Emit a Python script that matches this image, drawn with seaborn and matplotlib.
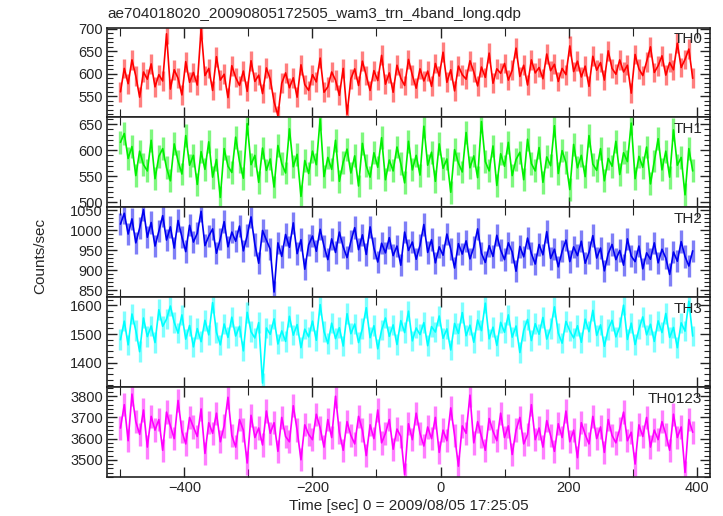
import numpy as np
import pandas as pd
import matplotlib
matplotlib.use("Agg")
import matplotlib.pyplot as plt
from matplotlib.ticker import MultipleLocator, AutoMinorLocator
import seaborn as sns

# WAM light curves, 6 s bins starting at -500 s
bin_start = -500
bin_width = 6

th0 = [560, 612, 578, 631, 595, 548, 604, 588, 622, 571,
       598, 584, 689, 566, 609, 590, 553, 627, 581, 603,
       575, 700, 596, 612, 563, 638, 586, 599, 547, 618,
       592, 574, 606, 561, 629, 583, 597, 556, 613, 588,
       538, 507, 579, 602, 569, 591, 548, 620, 576, 563,
       598, 582, 635, 559, 571, 604, 586, 552, 612, 510,
       589, 611, 574, 628, 596, 563, 607, 585, 641, 577,
       602, 559, 619, 590, 574, 632, 597, 568, 611, 584,
       606, 572, 623, 595, 648, 581, 609, 562, 617, 598,
       588, 629, 604, 573, 615, 592, 646, 579, 611, 601,
       623, 586, 608, 657, 594, 619, 575, 631, 602, 614,
       589, 644, 607, 621, 583, 612, 598, 662, 605, 628,
       593, 617, 572, 639, 608, 625, 586, 651, 612, 599,
       631, 604, 619, 557, 643, 611, 596, 627, 660, 603,
       618, 640, 597, 625, 609, 668, 614, 632, 655, 590]

th1 = [615, 632, 584, 607, 551, 598, 572, 560, 619, 545,
       588, 603, 566, 541, 612, 579, 554, 628, 571, 590,
       534, 597, 563, 616, 548, 582, 509, 603, 569, 557,
       625, 578, 546, 651, 572, 590, 538, 604, 561, 583,
       529, 609, 574, 556, 641, 568, 592, 511, 580, 555,
       598, 572, 660, 549, 586, 563, 619, 540, 577, 602,
       556, 589, 531, 613, 570, 548, 595, 567, 624, 543,
       581, 560, 606, 574, 537, 617, 562, 590, 552, 646,
       571, 596, 540, 612, 565, 583, 519, 601, 575, 558,
       634, 566, 589, 547, 655, 578, 560, 608, 532, 593,
       569, 615, 551, 582, 596, 543, 621, 574, 560, 605,
       538, 587, 570, 647, 555, 599, 576, 524, 611, 566,
       590, 549, 628, 573, 561, 603, 541, 584, 569, 617,
       553, 595, 578, 652, 545, 588, 567, 606, 535, 579,
       622, 562, 598, 548, 639, 571, 586, 514, 603, 560]

th2 = [1015, 1042, 990, 1028, 968, 1005, 1051, 982, 1019, 960,
       997, 1036, 975, 1008, 955, 1024, 983, 946, 1012, 970,
       992, 1047, 961, 985, 1003, 942, 978, 1021, 958, 995,
       972, 1010, 948, 986, 1033, 964, 917, 999, 975, 952,
       845, 968, 934, 989, 957, 1018, 941, 976, 902, 963,
       985, 947, 1002, 960, 926, 978, 944, 995, 958, 931,
       972, 1006, 951, 988, 939, 1008, 955, 920, 967, 943,
       981, 936, 960, 912, 995, 949, 970, 927, 962, 1014,
       944, 976, 918, 958, 937, 990, 952, 905, 966, 940,
       973, 928, 957, 1003, 942, 919, 961, 934, 987, 950,
       926, 968, 945, 897, 959, 933, 980, 941, 915, 964,
       938, 996, 929, 952, 908, 947, 975, 921, 958, 936,
       972, 917, 944, 986, 930, 955, 898, 941, 964, 926,
       949, 912, 978, 935, 921, 960, 903, 943, 927, 968,
       918, 952, 930, 889, 945, 922, 971, 934, 910, 948]

th3 = [1480, 1545, 1462, 1570, 1512, 1438, 1556, 1491, 1528, 1470,
       1585, 1527, 1552, 1598, 1541, 1503, 1567, 1482, 1530, 1455,
       1519, 1473, 1548, 1497, 1610, 1506, 1462, 1535, 1488, 1559,
       1493, 1527, 1441, 1576, 1508, 1486, 1540, 1328, 1521, 1499,
       1553, 1465, 1511, 1474, 1562, 1496, 1533, 1452, 1517, 1490,
       1545, 1478, 1603, 1509, 1466, 1538, 1484, 1522, 1458, 1571,
       1501, 1535, 1470, 1519, 1592, 1487, 1529, 1448, 1514, 1556,
       1492, 1532, 1463, 1547, 1505, 1580, 1476, 1521, 1498, 1540,
       1459, 1526, 1507, 1563, 1485, 1518, 1444, 1537, 1502, 1575,
       1494, 1531, 1471, 1549, 1512, 1608, 1483, 1524, 1460, 1541,
       1506, 1567, 1489, 1528, 1435, 1513, 1551, 1477, 1536, 1499,
       1558, 1482, 1520, 1595, 1503, 1468, 1544, 1511, 1486, 1529,
       1471, 1552, 1508, 1583, 1495, 1532, 1457, 1516, 1548, 1490,
       1525, 1601, 1481, 1538, 1463, 1517, 1560, 1497, 1534, 1474,
       1546, 1505, 1572, 1488, 1523, 1452, 1539, 1510, 1615, 1493]

th0123 = [3650, 3760, 3590, 3810, 3680, 3620, 3735, 3560, 3705, 3640,
          3690, 3545, 3725, 3660, 3600, 3780, 3635, 3575, 3700, 3655,
          3610, 3740, 3530, 3675, 3625, 3720, 3585, 3660, 3795, 3615,
          3560, 3690, 3640, 3485, 3710, 3605, 3650, 3570, 3730, 3625,
          3675, 3540, 3700, 3610, 3585, 3755, 3640, 3500, 3665, 3620,
          3595, 3715, 3650, 3560, 3690, 3605, 3800, 3630, 3545, 3680,
          3615, 3575, 3705, 3640, 3520, 3665, 3600, 3735, 3580, 3625,
          3690, 3550, 3645, 3610, 3430, 3670, 3595, 3720, 3625, 3565,
          3655, 3600, 3700, 3535, 3640, 3590, 3745, 3615, 3470, 3660,
          3625, 3805, 3580, 3680, 3610, 3545, 3695, 3635, 3590, 3720,
          3605, 3660, 3525, 3640, 3700, 3575, 3620, 3760, 3595, 3650,
          3560, 3685, 3615, 3540, 3670, 3605, 3730, 3585, 3640, 3510,
          3675, 3620, 3575, 3705, 3600, 3655, 3535, 3690, 3615, 3580,
          3645, 3725, 3590, 3630, 3480, 3665, 3610, 3700, 3560, 3640,
          3595, 3680, 3620, 3545, 3715, 3605, 3655, 3440, 3690, 3630]

band_names = ["TH0", "TH1", "TH2", "TH3", "TH0123"]
band_errors = [22, 22, 28, 36, 55]   # typical 1-sigma error per bin
y_limits = [(503, 703), (490, 663), (832, 1057), (1314, 1629), (3419, 3843)]
y_major = [50, 50, 50, 100, 100]
colors = ["#ff0000", "#00f000", "#0000f0", "#00ffff", "#ff00ff"]
curves = [th0, th1, th2, th3, th0123]

title = "ae704018020_20090805172505_wam3_trn_4band_long.qdp"

sns.set_style("ticks")
plt.rcParams["font.family"] = ["Liberation Sans", "DejaVu Sans"]
plt.rcParams["font.size"] = 10.5

fig, axes = plt.subplots(5, 1, sharex=True, figsize=(7.23, 5.16), dpi=100)
fig.subplots_adjust(left=0.148, right=0.982, bottom=0.0756, top=0.9467, hspace=0)

for ax, name, vals, err, ylim, ymaj, col in zip(axes, band_names, curves, band_errors,
                                                y_limits, y_major, colors):
    vals = np.array(vals, dtype=float)
    t = bin_start + bin_width * np.arange(len(vals))
    df = pd.DataFrame({"time": t, "rate": vals})
    # error bars in a lighter shade, line on top
    ax.vlines(df["time"], df["rate"] - err, df["rate"] + err, color=col, alpha=0.5, lw=2.4)
    sns.lineplot(data=df, x="time", y="rate", ax=ax, color=col, lw=1.2)
    ax.set_ylim(*ylim)
    ax.set_xlim(-521, 421)
    ax.yaxis.set_major_locator(MultipleLocator(ymaj))
    ax.yaxis.set_minor_locator(AutoMinorLocator(5))
    ax.xaxis.set_major_locator(MultipleLocator(200))
    ax.xaxis.set_minor_locator(MultipleLocator(100))
    ax.tick_params(which="both", direction="in", top=True, right=True, color="#222222")
    ax.tick_params(which="major", length=7, width=1.0, labelsize=10.5, pad=3)
    ax.tick_params(which="minor", length=4, width=0.8)
    ax.tick_params(axis="x", which="minor", length=6)
    for s in ax.spines.values():
        s.set_linewidth(1.2)
        s.set_color("#222222")
    ax.set_xlabel("")
    ax.set_ylabel("")
    ax.text(0.987, 0.95, name, transform=ax.transAxes, ha="right", va="top", fontsize=11)

axes[-1].set_xlabel("Time [sec] 0 = 2009/08/05 17:25:05", fontsize=11, labelpad=3)
fig.text(0.055, 1 - 256 / 516, "Counts/sec", rotation=90, ha="center", va="center", fontsize=11)
fig.text(0.148, 1 - 14 / 516, title, ha="left", va="center", fontsize=11)

fig.savefig("out.png", dpi=100)
